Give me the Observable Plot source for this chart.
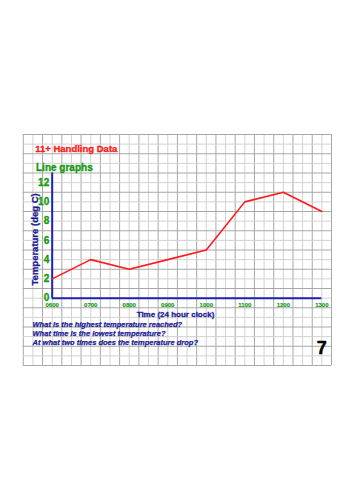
<!DOCTYPE html>
<html>
<head>
<meta charset="utf-8">
<script src="https://cdn.jsdelivr.net/npm/d3@7"></script>
<script src="https://cdn.jsdelivr.net/npm/@observablehq/plot@0.6"></script>
<style>
  html, body { margin: 0; padding: 0; background: #fff; }
  svg { display: block; }
</style>
</head>
<body>
<div id="chart"></div>
<script>
// Data
const times = [6, 7, 8, 9, 10, 11, 12, 13];
const timeLabels = ["0600", "0700", "0800", "0900", "1000", "1100", "1200", "1300"];
const temperatures = [2, 4, 3, 4, 5, 10, 11, 9];
const yTicks = [0, 2, 4, 6, 8, 10, 12];
const questions = [
  "What is the highest temperature reached?",
  "What time is the lowest temperature?",
  "At what two times does the temperature drop?"
];

const data = times.map((t, i) => ({ t, v: temperatures[i], label: timeLabels[i] }));

const gridX = d3.range(0, 33).map(i => ({ x: 5.25 + i * 0.25, i }));
const gridY = d3.range(0, 25).map(i => ({ y: -7 + i, i }));

const font = "'Liberation Sans', Arial, sans-serif";
const green = "#129a12";
const navy = "#1c1c94";
const axisBlue = "#2222a6";
const heavy = (fill, sw) => ({ fill, stroke: fill, strokeWidth: sw, fontWeight: "bold" });

const chart = Plot.plot({
  width: 353,
  height: 500,
  marginTop: 134,
  marginBottom: 135,
  marginLeft: 22.8,
  marginRight: 22,
  style: { fontFamily: font, background: "#fff" },
  x: { domain: [5.25, 13.25], axis: null },
  y: { domain: [-7, 17], axis: null },
  marks: [
    Plot.ruleX(gridX, { x: "x", y1: -7, y2: 17, stroke: d => d.i % 2 ? "#d2d2d2" : "#a8a8a8", strokeWidth: 1 }),
    Plot.ruleY(gridY, { y: "y", x1: 5.25, x2: 13.25, stroke: d => d.i % 2 ? "#d2d2d2" : "#a8a8a8", strokeWidth: 1 }),
    // axes
    Plot.ruleX([6], { y1: 0, y2: 13, stroke: axisBlue, strokeWidth: 2 }),
    Plot.ruleY([0], { x1: 6, x2: 13, stroke: axisBlue, strokeWidth: 2 }),
    // line
    Plot.line(data, { x: "t", y: "v", stroke: "#ff1a1a", strokeWidth: 1.6 }),
    // y tick labels
    Plot.text(yTicks, { x: 6, y: d => d, text: d => String(d), dx: -3, textAnchor: "end", ...heavy(green, 0.3), fontSize: 10 }),
    // x tick labels
    Plot.text(data, { x: "t", y: 0, text: "label", dy: 7, ...heavy(green, 0.15), fontSize: 6 }),
    // axis titles
    Plot.text(["Time (24 hour clock)"], { x: 9.2, y: -1.7, text: d => d, ...heavy(navy, 0.3), fontSize: 8 }),
    Plot.text(["Temperature (deg C)"], { x: 5.55, y: 6.1, text: d => d, rotate: -90, ...heavy(navy, 0.3), fontSize: 9.5 }),
    // titles
    Plot.text(["11+ Handling Data"], { x: 5.56, y: 15.47, text: d => d, textAnchor: "start", ...heavy("#ff1a1a", 0.35), fontSize: 9.5 }),
    Plot.text(["Line graphs"], { x: 5.58, y: 13.5, text: d => d, textAnchor: "start", ...heavy(green, 0.35), fontSize: 10 }),
    // questions
    Plot.text(questions, { x: 5.49, y: (d, i) => -2.74 - i * 0.94, text: d => d, textAnchor: "start", ...heavy(navy, 0.25), fontStyle: "italic", fontSize: 7.5 }),
    // page number
    Plot.text(["7"], { x: 13.0, y: -5.2, text: d => d, ...heavy("#000", 0.5), fontSize: 18 })
  ]
});
document.getElementById("chart").appendChild(chart);
</script>
</body>
</html>
